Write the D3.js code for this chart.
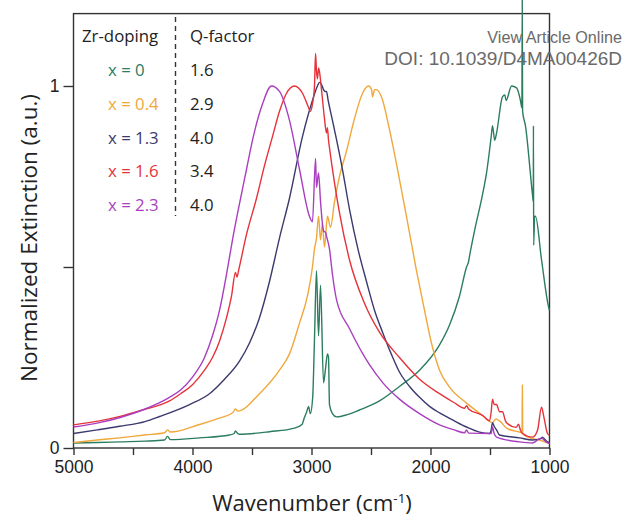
<!DOCTYPE html>
<html>
<head>
<meta charset="utf-8">
<script src="https://cdn.jsdelivr.net/npm/d3@7"></script>
<style>
  html, body { margin: 0; padding: 0; background: #fff; }
  svg { display: block; font-family: "Open Sans", "Noto Sans", sans-serif; }
</style>
</head>
<body>
<svg id="chart" width="625" height="520"></svg>
<script>
// Extinction spectra, [wavenumber (cm-1), normalized extinction]
const zr0 = [[5000,0.014],[4800,0.015],[4613,0.017],[4400,0.019],[4235,0.022],[4210,0.032],[4185,0.023],[3941,0.028],[3689,0.036],[3650,0.040],[3639,0.047],[3620,0.040],[3605,0.038],[3353,0.045],[3143,0.055],[3080,0.065],[3059,0.085],[3040,0.10],[3025,0.115],[3010,0.095],[2990,0.14],[2975,0.30],[2958,0.49],[2941,0.31],[2924,0.45],[2899,0.18],[2882,0.22],[2866,0.26],[2857,0.25],[2849,0.12],[2824,0.095],[2790,0.086],[2700,0.092],[2597,0.105],[2429,0.13],[2261,0.17],[2092,0.215],[1924,0.285],[1840,0.34],[1756,0.42],[1697,0.50],[1680,0.515],[1672,0.53],[1630,0.60],[1563,0.70],[1529,0.76],[1490,0.86],[1479,0.89],[1460,0.85],[1445,0.87],[1395,0.97],[1375,0.975],[1365,0.96],[1319,1.0],[1277,0.995],[1244,0.96],[1232,0.94],[1229,1.24],[1226,0.93],[1202,0.89],[1143,0.70],[1136,0.68],[1135,0.89],[1133,0.56],[1125,0.64],[1118,0.64],[1067,0.52],[1008,0.39],[1000,0.38]];

const zr04 = [[5000,0.015],[4800,0.022],[4613,0.028],[4400,0.036],[4235,0.042],[4210,0.050],[4185,0.044],[3941,0.065],[3800,0.080],[3660,0.098],[3640,0.108],[3620,0.102],[3437,0.15],[3269,0.215],[3185,0.26],[3101,0.345],[3034,0.42],[2992,0.50],[2975,0.55],[2958,0.58],[2941,0.64],[2924,0.575],[2908,0.62],[2891,0.555],[2866,0.64],[2840,0.61],[2807,0.68],[2765,0.75],[2706,0.82],[2639,0.91],[2571,0.98],[2521,1.0],[2495,0.99],[2487,0.97],[2470,0.99],[2454,0.99],[2412,0.97],[2345,0.88],[2277,0.77],[2202,0.64],[2118,0.49],[2050,0.38],[1992,0.29],[1924,0.215],[1840,0.168],[1697,0.124],[1563,0.09],[1479,0.07],[1450,0.08],[1420,0.075],[1361,0.055],[1252,0.044],[1231,0.042],[1228,0.174],[1225,0.04],[1168,0.028],[1084,0.022],[1017,0.014],[1000,0.012]];

const zr13 = [[5000,0.04],[4800,0.05],[4613,0.06],[4400,0.073],[4277,0.087],[4025,0.12],[3857,0.15],[3731,0.19],[3605,0.24],[3521,0.29],[3437,0.36],[3353,0.46],[3269,0.58],[3185,0.69],[3076,0.86],[2992,0.96],[2950,1.0],[2933,1.01],[2910,1.0],[2899,0.99],[2885,0.985],[2874,0.985],[2860,0.96],[2824,0.905],[2740,0.77],[2681,0.66],[2610,0.55],[2538,0.46],[2470,0.38],[2403,0.32],[2330,0.26],[2261,0.21],[2176,0.17],[2092,0.14],[2008,0.115],[1924,0.097],[1800,0.075],[1697,0.058],[1588,0.044],[1504,0.040],[1490,0.05],[1479,0.07],[1465,0.06],[1445,0.05],[1420,0.036],[1252,0.028],[1143,0.022],[1070,0.026],[1059,0.030],[1040,0.024],[1017,0.017],[1000,0.015]];

const zr16 = [[5000,0.064],[4782,0.075],[4600,0.088],[4420,0.105],[4193,0.13],[4100,0.15],[4000,0.175],[3899,0.215],[3832,0.25],[3773,0.295],[3714,0.36],[3672,0.42],[3639,0.485],[3626,0.472],[3613,0.49],[3546,0.59],[3462,0.69],[3395,0.78],[3328,0.86],[3269,0.93],[3210,0.98],[3143,1.0],[3076,0.98],[3030,0.945],[3010,0.93],[2992,0.95],[2975,1.0],[2966,1.09],[2958,1.04],[2950,1.02],[2941,1.05],[2933,1.04],[2916,0.99],[2891,0.91],[2874,0.87],[2866,0.885],[2857,0.85],[2849,0.83],[2765,0.65],[2681,0.52],[2555,0.40],[2429,0.32],[2261,0.25],[2092,0.19],[1924,0.15],[1800,0.125],[1714,0.11],[1697,0.117],[1680,0.108],[1563,0.09],[1504,0.075],[1490,0.10],[1479,0.135],[1465,0.12],[1445,0.12],[1420,0.10],[1395,0.10],[1370,0.075],[1361,0.07],[1280,0.057],[1260,0.066],[1245,0.05],[1227,0.04],[1143,0.03],[1100,0.05],[1067,0.113],[1050,0.09],[1042,0.077],[1017,0.04],[1000,0.035]];

const zr23 = [[5000,0.058],[4782,0.07],[4600,0.085],[4420,0.105],[4193,0.14],[4100,0.16],[4000,0.196],[3899,0.25],[3832,0.31],[3773,0.38],[3714,0.48],[3664,0.575],[3605,0.675],[3546,0.77],[3496,0.85],[3412,0.95],[3336,1.0],[3269,0.985],[3185,0.905],[3101,0.77],[3017,0.64],[2992,0.625],[2966,0.80],[2958,0.72],[2941,0.76],[2924,0.68],[2899,0.60],[2882,0.595],[2874,0.585],[2849,0.55],[2824,0.48],[2790,0.41],[2681,0.33],[2513,0.23],[2400,0.18],[2261,0.135],[2092,0.095],[1924,0.064],[1800,0.05],[1714,0.042],[1697,0.05],[1680,0.041],[1504,0.04],[1490,0.04],[1479,0.058],[1465,0.04],[1445,0.03],[1252,0.017],[1143,0.014],[1067,0.028],[1040,0.02],[1017,0.015],[1000,0.012]];

const dopingLabels = ["x = 0", "x = 0.4", "x = 1.3", "x = 1.6", "x = 2.3"];
const qFactors = ["1.6", "2.9", "4.0", "3.4", "4.0"];
const seriesColors = ["#2b7d5e", "#f0a83a", "#3b3a6e", "#e5333b", "#a93fbf"];
const spectra = [zr0, zr04, zr13, zr16, zr23];

const xTicksMajor = [5000, 4000, 3000, 2000, 1000];
const xTicksMinor = [4500, 3500, 2500, 1500];
const yTicks = [0, 0.5, 1];
const yTickLabels = { 0: "0", 1: "1" };

const svg = d3.select("#chart");
const plotLeft = 73.5, plotRight = 549.5, plotBottom = 448, plotTop = 13.6;

const x = d3.scaleLinear().domain([5000, 1000]).range([plotLeft, plotRight]);
const y = d3.scaleLinear().domain([0, 1.2]).range([plotBottom, plotTop]);

// plot frame
svg.append("rect")
  .attr("x", x(5000)).attr("y", y(1.2))
  .attr("width", x(1000) - x(5000)).attr("height", y(0) - y(1.2))
  .attr("fill", "none").attr("stroke", "#333").attr("stroke-width", 1.4);

// x axis
svg.append("g").attr("transform", `translate(0,${plotBottom})`)
  .call(d3.axisBottom(x).tickValues(xTicksMajor).tickSize(7).tickPadding(6).tickFormat(d3.format("d")));
svg.append("g").attr("transform", `translate(0,${plotBottom})`)
  .call(d3.axisBottom(x).tickValues(xTicksMinor).tickSize(7).tickFormat(""));

// y axis
svg.append("g").attr("transform", `translate(${plotLeft},0)`)
  .call(d3.axisLeft(y).tickValues(yTicks).tickSize(10).tickPadding(4)
    .tickFormat(d => yTickLabels[d] || ""));

svg.selectAll(".domain").remove();
svg.selectAll(".tick line").attr("stroke", "#333").attr("stroke-width", 1.4);
svg.selectAll(".tick text").attr("fill", "#222").style("font-size", "17.5px")
  .style("font-family", "'Liberation Sans', Arial, sans-serif");

// spectra
const line = d3.line().x(d => x(d[0])).y(d => y(d[1])).curve(d3.curveMonotoneX);
svg.append("g").selectAll("path").data(spectra).join("path")
  .attr("d", line)
  .attr("fill", "none")
  .attr("stroke", (d, i) => seriesColors[i])
  .attr("stroke-width", 1.4)
  .attr("stroke-linejoin", "round");

// axis titles
const xt = svg.append("text").attr("x", 312).attr("y", 511)
  .attr("text-anchor", "middle").attr("fill", "#222").style("font-size", "22px");
xt.append("tspan").text("Wavenumber (cm");
xt.append("tspan").attr("dy", -8).style("font-size", "13.5px").text("-1");
xt.append("tspan").attr("dy", 8).text(")");

svg.append("text")
  .attr("transform", "translate(37,238) rotate(-90)")
  .attr("text-anchor", "middle").attr("fill", "#222").style("font-size", "22.5px")
  .text("Normalized Extinction (a.u.)");

// legend table
const legend = svg.append("g");
legend.append("text").attr("x", 82).attr("y", 42).attr("fill", "#222")
  .style("font-size", "16.8px").text("Zr-doping");
legend.append("text").attr("x", 190).attr("y", 42).attr("fill", "#222")
  .style("font-size", "16.8px").text("Q-factor");
legend.append("line").attr("x1", 175.5).attr("x2", 175.5).attr("y1", 17).attr("y2", 216)
  .attr("stroke", "#333").attr("stroke-width", 1.4).attr("stroke-dasharray", "5,4");
const rowY = d3.scaleLinear().domain([0, 4]).range([76, 211]);
legend.selectAll("text.dop").data(dopingLabels).join("text").attr("class", "dop")
  .attr("x", 108).attr("y", (d, i) => rowY(i))
  .attr("fill", (d, i) => seriesColors[i]).style("font-size", "16.8px").text(d => d);
legend.selectAll("text.q").data(qFactors).join("text").attr("class", "q")
  .attr("x", 190).attr("y", (d, i) => rowY(i))
  .attr("fill", "#222").style("font-size", "16.8px").text(d => d);

// publisher banner
const bannerFont = "'Liberation Sans', Arial, sans-serif";
svg.append("text").attr("x", 622).attr("y", 43).attr("text-anchor", "end")
  .attr("fill", "#6a6a6a").style("font-size", "16.2px").style("font-family", bannerFont)
  .text("View Article Online");
svg.append("text").attr("x", 622).attr("y", 65).attr("text-anchor", "end")
  .attr("fill", "#6a6a6a").style("font-size", "19px").style("font-family", bannerFont)
  .text("DOI: 10.1039/D4MA00426D");
</script>
</body>
</html>
